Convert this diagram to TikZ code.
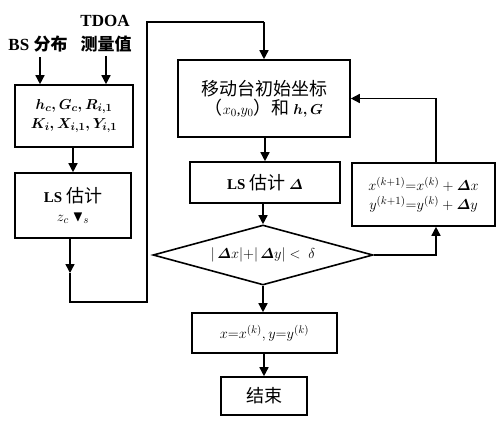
\documentclass[tikz,border=0pt]{standalone}
\usepackage{amsmath,amssymb}
\usepackage{fontspec}
\setmainfont{Liberation Serif}
\newfontfamily\cjk{Noto Sans CJK SC}
\usetikzlibrary{arrows.meta,shapes.geometric}

\begin{document}
\begin{tikzpicture}[x=1pt, y=-1pt,
    every node/.style={font=\fontsize{15}{19}\selectfont},
    label text/.style={font=\fontsize{17}{20}\selectfont\bfseries},
    box/.style={draw, line width=1.6pt, align=center, inner sep=2pt},
    flow/.style={line width=1.5pt, -{Triangle[length=9pt,width=9pt]}},
    wire/.style={line width=1.5pt}]
    \useasboundingbox (0,0) rectangle (504,423);

    % Inputs
    \node[label text] (tdoa) at (105,21) {TDOA};
    \node[label text] (bs) at (38,44) {BS {\cjk 分布}};
    \node[label text] (meas) at (106,44) {{\cjk 测量值}};

    % Left column
    \node[box, minimum width=118, minimum height=62] (par) at (74,116)
        {$\boldsymbol{h_c,G_c,R_{i,1}}$\\$\boldsymbol{K_i,X_{i,1},Y_{i,1}}$};
    \node[box, minimum width=116, minimum height=65] (ls1) at (73,205.5)
        {\textbf{LS} {\cjk\fontsize{18}{20}\selectfont 估计}\\$z_c\ \boldsymbol{\blacktriangledown}_s$};

    \coordinate (in1) at (40,57);
    \draw[flow] (in1) -- (in1 |- par.north);
    \draw[flow] (meas.south) -- (meas.south |- par.north);
    \draw[flow] (par.south -| ls1.north) -- (ls1.north);

    % Main column
    \node[box, minimum width=172, minimum height=77] (init) at (264,98.5)
        {{\cjk\fontsize{18}{22}\selectfont 移动台初始坐标}\\{\cjk\fontsize{18}{20}\selectfont （}$x_0$,$y_0${\cjk\fontsize{18}{20}\selectfont ）和} $\boldsymbol{h,G}$};
    \node[box, minimum width=150, minimum height=41] (ls2) at (265,182.5)
        {\textbf{LS} {\cjk\fontsize{18}{20}\selectfont 估计} $\boldsymbol{\varDelta}$};
    \node[draw, diamond, line width=1.6pt, aspect=3.6, inner sep=0pt,
          minimum width=220, minimum height=60] (test) at (263,255)
        {$|\,\boldsymbol{\varDelta}x|{+}|\,\boldsymbol{\varDelta}y|<\ \delta$};
    \node[box, minimum width=145, minimum height=40] (res) at (264.5,333)
        {$x{=}x^{(k)},y{=}y^{(k)}$};
    \node[box, minimum width=86, minimum height=38] (stop) at (264,396)
        {{\cjk\fontsize{18}{20}\selectfont 结束}};

    % Update box
    \node[box, minimum width=143, minimum height=63] (upd) at (423.5,194.5)
        {$x^{(k+1)}{=}x^{(k)}+\boldsymbol{\varDelta}x$\\$y^{(k+1)}{=}y^{(k)}+\boldsymbol{\varDelta}y$};

    % Connection from left column to main column
    \coordinate (c1) at (70,273);
    \coordinate (c2) at (70,302);
    \coordinate (c3) at (147,302);
    \coordinate (c4) at (147,22);
    \coordinate (c5) at (264,22);
    \draw[flow] (ls1.south -| c1) -- (c1);
    \draw[wire] (c1) -- (c2) -- (c3) -- (c4) -- (c5);
    \draw[flow] (c5) -- (init.north);

    % Main flow
    \draw[flow] (init.south -| ls2.north) -- (ls2.north);
    \draw[flow] (ls2.south -| test.north) -- (test.north);
    \draw[flow] (test.south) -- (test.south |- res.north);
    \draw[flow] (res.south -| stop.north) -- (stop.north);

    % Iteration loop
    \coordinate (fb) at (436,0);
    \draw[flow] (test.east) -| (fb |- upd.south);
    \draw[flow] (fb |- upd.north) |- (init.east);
\end{tikzpicture}
\end{document}
